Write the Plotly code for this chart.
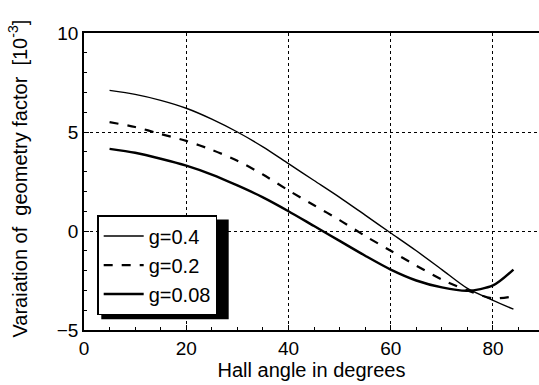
import plotly.graph_objects as go

angle = [5, 10, 15, 20, 25, 30, 35, 40, 45, 50, 55, 60, 65, 70, 75, 80, 84]
g04 = [7.1, 6.9, 6.6, 6.2, 5.65, 5.0, 4.25, 3.4, 2.55, 1.7, 0.8, -0.1, -1.0, -1.95, -2.9, -3.5, -3.95]
g02 = [5.5, 5.25, 4.9, 4.55, 4.1, 3.55, 2.85, 2.05, 1.3, 0.55, -0.25, -1.0, -1.75, -2.45, -3.0, -3.4, -3.3]
g008 = [4.15, 3.95, 3.65, 3.3, 2.85, 2.3, 1.7, 1.0, 0.25, -0.5, -1.25, -1.95, -2.5, -2.85, -3.02, -2.75, -1.95]

series = [("g=0.4", g04, "solid", 1.4), ("g=0.2", g02, "dash", 2.2), ("g=0.08", g008, "solid", 2.4)]

fig = go.Figure()
for name, ys, dash, w in series:
    fig.add_trace(go.Scatter(x=angle, y=ys, mode="lines", name=name,
                             line=dict(color="black", dash=dash, width=w, shape="spline", smoothing=0.8)))

font = "Liberation Sans, Arial, sans-serif"
axis_common = dict(showline=True, linecolor="black", linewidth=1.5, mirror=True,
                   ticks="inside", ticklen=5, tickcolor="black",
                   showgrid=True, gridcolor="black", griddash="dot", gridwidth=1.2,
                   zeroline=False, tickfont=dict(size=19, color="black", family=font))
fig.update_xaxes(range=[0, 89], tickvals=[0, 20, 40, 60, 80],
                 minor=dict(dtick=5, ticks="inside", ticklen=3, tickcolor="black", showgrid=False),
                 title=dict(text="Hall angle in degrees", font=dict(size=20, family=font, color="black"), standoff=0),
                 **axis_common)
fig.update_yaxes(range=[-5, 10], tickvals=[-5, 0, 5, 10],
                 minor=dict(dtick=1, ticks="inside", ticklen=3, tickcolor="black", showgrid=False),
                 **axis_common)

# y-axis title placed as annotation to match the reference's position
fig.add_annotation(text="Varaiation of  geometry factor  [10<sup>-3</sup>]",
                   xref="paper", yref="paper", x=-0.145, y=0.51, xanchor="center", yanchor="middle",
                   textangle=-90, showarrow=False,
                   font=dict(size=20, family=font, color="black"))

# legend shadow
fig.add_shape(type="rect", xref="paper", yref="paper", x0=0.038, x1=0.318, y0=0.036, y1=0.372,
              fillcolor="black", line=dict(width=0), layer="above")

fig.update_layout(
    width=539, height=385,
    margin=dict(l=84, r=0, t=33, b=55, autoexpand=False),
    paper_bgcolor="white", plot_bgcolor="white",
    font=dict(family=font, color="black"),
    legend=dict(x=0.029, y=0.387, xanchor="left", yanchor="top",
                bgcolor="white", bordercolor="black", borderwidth=1.5,
                font=dict(size=20, family=font, color="black"),
                itemwidth=40, tracegroupgap=0),
)
fig.write_html("out.html")
